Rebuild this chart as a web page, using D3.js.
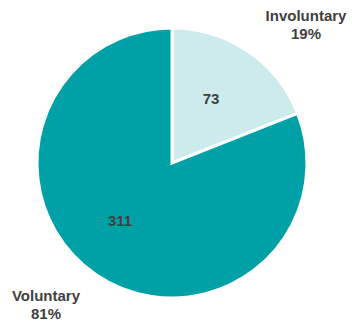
<!DOCTYPE html>
<html><head><meta charset="utf-8">
<script src="https://cdn.jsdelivr.net/npm/d3@7"></script>
<style>html,body{margin:0;padding:0;background:#fff;}</style>
</head><body>
<svg id="c" width="352" height="323"></svg>
<script>
const categories = ["Involuntary", "Voluntary"];
const values = [73, 311];
const percentLabels = ["19%", "81%"];
const colors = ["#cdebed", "#00a0a7"];

const svg = d3.select("#c");
const cx = 172, cy = 163, r = 135;
const g = svg.append("g").attr("transform", `translate(${cx},${cy})`);
const pie = d3.pie().sort(null).value(d => d)(values);
const arc = d3.arc().innerRadius(0).outerRadius(r);
g.selectAll("path").data(pie).enter().append("path")
  .attr("d", arc).attr("fill", (d,i) => colors[i])
  .attr("stroke", "#fff").attr("stroke-width", 3).attr("stroke-linejoin","miter");

const font = "'Liberation Sans', Arial, sans-serif";
const valuePos = [[211, 104], [120, 226]];
pie.forEach((d,i) => {
  svg.append("text").attr("x", valuePos[i][0]).attr("y", valuePos[i][1])
    .attr("text-anchor","middle").attr("font-family",font).attr("font-weight","bold")
    .attr("font-size",15).attr("fill","#404040").text(values[i]);
});
const labelPos = [[306, 21], [46, 301]];
categories.forEach((c,i) => {
  const t = svg.append("text").attr("x", labelPos[i][0]).attr("y", labelPos[i][1])
    .attr("text-anchor","middle").attr("font-family",font).attr("font-weight","bold")
    .attr("font-size",15).attr("fill","#404040");
  t.append("tspan").attr("x", labelPos[i][0]).text(c);
  t.append("tspan").attr("x", labelPos[i][0]).attr("dy", 18).text(percentLabels[i]);
});
</script>
</body></html>
